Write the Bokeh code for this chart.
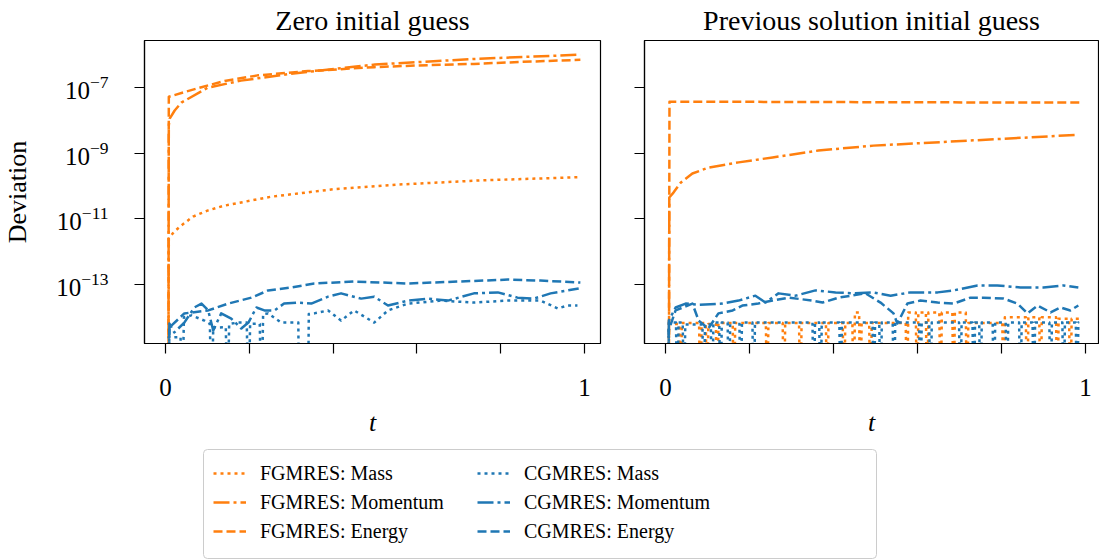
import numpy as np
from bokeh.plotting import figure
from bokeh.models import (Range1d, FixedTicker, LogTickFormatter, Legend, LegendItem,
                          BoxAnnotation, Title, CustomJSTickFormatter)
from bokeh.layouts import column, row
from bokeh.embed import file_html
from bokeh.resources import INLINE

# ---------------- data (log10 of deviation) ----------------
# Zero initial guess
zt_f_mass = [0.007, 0.008, 0.020, 0.038, 0.066, 0.100, 0.140, 0.250, 0.400, 0.550, 0.750, 0.990]
zl_f_mass = [-17, -11.60, -11.40, -11.20, -10.93, -10.75, -10.60, -10.33, -10.10, -9.96, -9.83, -9.73]

zt_f_mom = [0.007, 0.008, 0.010, 0.022, 0.038, 0.100, 0.180, 0.300, 0.500, 0.736, 0.990]
zl_f_mom = [-17, -8.15, -7.95, -7.70, -7.46, -7.01, -6.79, -6.58, -6.30, -6.13, -6.00]

zt_f_en = [0.007, 0.008, 0.019, 0.045, 0.086, 0.141, 0.220, 0.340, 0.498, 0.600, 0.736, 0.850, 0.990]
zl_f_en = [-17, -7.28, -7.24, -7.14, -6.99, -6.80, -6.63, -6.50, -6.38, -6.33, -6.28, -6.22, -6.156]

zt_c_mass = [0.007, 0.008, 0.019, 0.036, 0.040, 0.044, 0.062, 0.093, 0.106, 0.110,
             0.114, 0.126, 0.144, 0.148, 0.152, 0.174, 0.194, 0.198, 0.202, 0.221,
             0.225, 0.229, 0.233, 0.245, 0.276, 0.317, 0.319, 0.340, 0.342, 0.355,
             0.388, 0.419, 0.450, 0.498, 0.531, 0.579, 0.657, 0.736, 0.817, 0.895,
             0.936, 0.960, 0.983]
zl_c_mass = [-17, -14.61, -14.61, -14.60, -17, -14.00, -13.94, -14.10, -14.20, -17,
             -14.30, -14.31, -14.30, -17, -14.20, -14.16, -14.16, -17, -14.20, -14.19,
             -14.20, -17, -13.90, -13.88, -14.16, -14.16, -17, -17, -13.90, -13.88,
             -13.79, -14.10, -13.79, -14.16, -13.79, -13.58, -13.49, -13.55, -13.49, -13.49,
             -13.73, -13.64, -13.64]

zt_c_mom = [0.007, 0.0095, 0.021, 0.045, 0.069, 0.086, 0.102, 0.114, 0.133, 0.157,
            0.181, 0.198, 0.217, 0.236, 0.260, 0.283, 0.317, 0.348, 0.388, 0.419,
            0.467, 0.498, 0.531, 0.579, 0.626, 0.674, 0.736, 0.793, 0.840, 0.879,
            0.919, 0.960, 0.986]
zl_c_mom = [-17, -14.19, -14.46, -14.16, -13.70, -13.58, -13.79, -14.40, -13.88, -14.04,
            -14.34, -14.16, -13.70, -13.79, -13.79, -13.58, -13.55, -13.58, -13.37, -13.27,
            -13.43, -13.37, -13.64, -13.49, -13.43, -13.49, -13.27, -13.24, -13.40, -13.43,
            -13.27, -13.18, -13.12]

zt_c_en = [0.007, 0.0095, 0.045, 0.102, 0.150, 0.205, 0.245, 0.300, 0.355, 0.450,
           0.579, 0.698, 0.817, 0.895, 0.990]
zl_c_en = [-17, -14.31, -13.88, -13.79, -13.58, -13.40, -13.18, -13.09, -12.97, -12.91,
           -12.97, -12.91, -12.85, -12.88, -12.94]

# Previous solution initial guess
pt_f_mass = [0.007, 0.008,
             0.033, 0.036, 0.039,
             0.080, 0.083, 0.086,
             0.096, 0.099, 0.102,
             0.120, 0.123, 0.126,
             0.160, 0.163, 0.166,
             0.239, 0.242, 0.245,
             0.279, 0.282, 0.285,
             0.318, 0.321, 0.324,
             0.382, 0.385, 0.388,
             0.422, 0.425, 0.428,
             0.445, 0.448, 0.451,
             0.461, 0.464, 0.467,
             0.485, 0.488, 0.491,
             0.572, 0.575, 0.578,
             0.596, 0.599, 0.602,
             0.620, 0.623, 0.626,
             0.652, 0.655, 0.658,
             0.683, 0.686, 0.689,
             0.715, 0.718, 0.721,
             0.802, 0.805, 0.808,
             0.858, 0.861, 0.864,
             0.890, 0.893, 0.896,
             0.930, 0.933, 0.936,
             0.961, 0.964, 0.967,
             0.985]
pl_f_mass = [-17, -14.20,
             -14.20, -17, -14.17,
             -14.17, -17, -14.17,
             -14.17, -17, -14.20,
             -14.20, -17, -14.17,
             -14.17, -17, -14.17,
             -14.17, -17, -14.17,
             -14.17, -17, -14.17,
             -14.17, -17, -14.17,
             -14.17, -17, -14.17,
             -14.17, -17, -14.17,
             -14.17, -17, -13.85,
             -13.85, -17, -14.17,
             -14.17, -17, -14.17,
             -14.17, -17, -13.85,
             -13.85, -17, -13.85,
             -13.85, -17, -13.85,
             -13.85, -17, -13.85,
             -13.85, -17, -13.85,
             -13.85, -17, -14.17,
             -14.17, -17, -14.00,
             -14.00, -17, -14.00,
             -14.00, -17, -14.00,
             -14.00, -17, -14.04,
             -14.04, -17, -14.04,
             -14.04]

pt_f_mom = [0.008, 0.009, 0.019, 0.036, 0.064, 0.102, 0.174, 0.255, 0.364, 0.495, 0.733, 0.983]
pl_f_mom = [-17, -10.35, -10.20, -9.90, -9.62, -9.44, -9.28, -9.13, -8.92, -8.77, -8.61, -8.44]

pt_f_en = [0.008, 0.0095, 0.300, 0.600, 0.990]
pl_f_en = [-17, -7.43, -7.44, -7.45, -7.46]

pt_c_mass = [0.007, 0.008,
             0.025, 0.028, 0.031,
             0.041, 0.044, 0.047,
             0.088, 0.091, 0.094,
             0.108, 0.111, 0.114,
             0.128, 0.131, 0.134,
             0.148, 0.151, 0.154,
             0.176, 0.179, 0.182,
             0.207, 0.210, 0.213,
             0.350, 0.353, 0.356,
             0.366, 0.369, 0.372,
             0.414, 0.417, 0.420,
             0.493, 0.496, 0.499,
             0.509, 0.512, 0.515,
             0.541, 0.544, 0.547,
             0.604, 0.607, 0.610,
             0.628, 0.631, 0.634,
             0.699, 0.702, 0.705,
             0.731, 0.734, 0.737,
             0.747, 0.750, 0.753,
             0.779, 0.782, 0.785,
             0.810, 0.813, 0.816,
             0.842, 0.845, 0.848,
             0.874, 0.877, 0.880,
             0.914, 0.917, 0.920,
             0.945, 0.948, 0.951,
             0.977, 0.980, 0.983,
             0.985]
pl_c_mass = [-17, -14.16,
             -14.16, -17, -14.16,
             -14.16, -17, -14.22,
             -14.22, -17, -14.22,
             -14.22, -17, -14.16,
             -14.16, -17, -14.16,
             -14.16, -17, -14.16,
             -14.16, -17, -14.16,
             -14.16, -17, -14.16,
             -14.16, -17, -14.16,
             -14.16, -17, -14.16,
             -14.16, -17, -14.16,
             -14.16, -17, -14.16,
             -14.16, -17, -14.16,
             -14.16, -17, -14.16,
             -14.16, -17, -14.16,
             -14.16, -17, -14.16,
             -14.16, -17, -14.16,
             -14.16, -17, -14.16,
             -14.16, -17, -14.16,
             -14.16, -17, -14.16,
             -14.16, -17, -14.16,
             -14.16, -17, -14.16,
             -14.16, -17, -14.16,
             -14.16, -17, -14.16,
             -14.16, -17, -14.16,
             -14.16, -17, -14.16,
             -14.16]

pt_c_mom = [0.007, 0.008, 0.024, 0.048, 0.080, 0.136, 0.174, 0.214, 0.238, 0.269,
            0.310, 0.357, 0.405, 0.452, 0.493, 0.536, 0.583, 0.648, 0.686, 0.743,
            0.790, 0.845, 0.900, 0.948, 0.983]
pl_c_mom = [-17, -14.10, -13.70, -13.58, -13.62, -13.58, -13.49, -13.34, -13.55, -13.27,
            -13.34, -13.18, -13.24, -13.27, -13.24, -13.34, -13.24, -13.24, -13.18, -13.03,
            -13.03, -13.09, -13.09, -13.03, -13.09]

pt_c_en = [0.007, 0.0075, 0.024, 0.064, 0.079, 0.102, 0.126, 0.160, 0.183, 0.221,
           0.255, 0.293, 0.350, 0.374, 0.412, 0.476, 0.512, 0.543, 0.552, 0.576,
           0.607, 0.648, 0.686, 0.726, 0.757, 0.805, 0.838, 0.862, 0.886, 0.917,
           0.940, 0.964, 0.983]
pl_c_en = [-17, -14.40, -13.79, -13.58, -14.10, -14.34, -13.88, -13.79, -13.64, -13.58,
           -13.49, -13.40, -13.49, -13.55, -13.40, -13.27, -13.55, -13.88, -14.19, -13.58,
           -13.49, -13.55, -13.58, -13.40, -13.40, -13.43, -13.58, -13.88, -13.64, -13.85,
           -13.70, -13.79, -13.64]

titles = ["Zero initial guess", "Previous solution initial guess"]
x_ticks = [0.0, 0.2, 0.4, 0.6, 0.8, 1.0]
y_ticks = [1e-13, 1e-11, 1e-9, 1e-7]
legend_labels = ["FGMRES: Mass", "FGMRES: Momentum", "FGMRES: Energy",
                 "CGMRES: Mass", "CGMRES: Momentum", "CGMRES: Energy"]

# ---------------- style ----------------
ORANGE = "#ff7f0e"
BLUE = "#1f77b4"
SERIF = "Liberation Serif"
LW = 2.5
DASHES = ["3 4", "16 4 3 4", "9 4"]
H = 446
FRAME_H = 303
TOP = 40

y_range = Range1d(10 ** -14.797, 10 ** -5.568)


def style_panel(p, first):
    p.outline_line_color = "black"
    p.outline_line_width = 1.2
    p.outline_line_alpha = 1
    p.grid.visible = False
    p.background_fill_color = "white"
    p.border_fill_color = "white"
    for ax in (p.xaxis[0], p.yaxis[0]):
        ax.axis_line_color = "black"
        ax.axis_line_width = 1.2
        ax.major_tick_line_color = "black"
        ax.major_tick_line_width = 1.2
        ax.major_tick_in = 0
        ax.major_tick_out = 10
        ax.minor_tick_line_color = None
        ax.major_label_text_font = SERIF
        ax.major_label_text_font_size = "25px"
        ax.major_label_text_color = "black"
        ax.axis_label_text_font = SERIF
        ax.axis_label_text_font_size = "26px"
        ax.axis_label_text_color = "black"
    p.xaxis.ticker = FixedTicker(ticks=x_ticks, minor_ticks=[])
    p.xaxis.major_label_overrides = {0.2: "", 0.4: "", 0.6: "", 0.8: ""}
    p.xaxis.major_label_standoff = 25
    p.xaxis.axis_label = "t"
    p.xaxis.axis_label_text_font_style = "italic"
    p.xaxis.axis_label_standoff = 9
    p.yaxis.ticker = FixedTicker(ticks=y_ticks, minor_ticks=[])
    if first:
        p.yaxis.formatter = LogTickFormatter()
        p.yaxis.axis_label = "Deviation"
        p.yaxis.axis_label_text_font_style = "normal"
        p.yaxis.major_label_standoff = 26
        p.yaxis.axis_label_standoff = 21
    else:
        p.yaxis.formatter = CustomJSTickFormatter(code="return ''")
        p.yaxis.major_label_standoff = 0


def make_panel(title, width, min_left, min_right, x_end, first, series):
    p = figure(width=width, height=H, y_axis_type="log",
               x_range=Range1d(-0.05, x_end), y_range=y_range,
               output_backend="svg", toolbar_location=None,
               min_border_left=min_left, min_border_right=min_right,
               min_border_top=TOP, min_border_bottom=H - TOP - FRAME_H)
    p.title = Title(text=title, align="center", vertical_align="top",
                    text_font=SERIF, text_font_size="28px", text_font_style="normal",
                    text_color="black", standoff=6)
    style_panel(p, first)
    for t, l, color, dash in series:
        p.line(t, 10.0 ** np.array(l, dtype=float), line_color=color, line_width=LW,
               line_dash=dash, line_join="round")
    return p


p1 = make_panel(titles[0], 622, 143, 22, 1.038, True, [
    (zt_f_mass, zl_f_mass, ORANGE, DASHES[0]),
    (zt_f_mom, zl_f_mom, ORANGE, DASHES[1]),
    (zt_f_en, zl_f_en, ORANGE, DASHES[2]),
    (zt_c_mass, zl_c_mass, BLUE, DASHES[0]),
    (zt_c_mom, zl_c_mom, BLUE, DASHES[1]),
    (zt_c_en, zl_c_en, BLUE, DASHES[2]),
])
p2 = make_panel(titles[1], 477, 22, 1, 1.031, False, [
    (pt_f_mass, pl_f_mass, ORANGE, DASHES[0]),
    (pt_f_mom, pl_f_mom, ORANGE, DASHES[1]),
    (pt_f_en, pl_f_en, ORANGE, DASHES[2]),
    (pt_c_mass, pl_c_mass, BLUE, DASHES[0]),
    (pt_c_mom, pl_c_mom, BLUE, DASHES[1]),
    (pt_c_en, pl_c_en, BLUE, DASHES[2]),
])

# ---------------- legend panel ----------------
LH = 560 - H
pl = figure(width=1099, height=LH, x_range=Range1d(0, 1099), y_range=Range1d(0, LH),
            output_backend="svg", toolbar_location=None, min_border=0,
            x_axis_location=None, y_axis_location=None)
pl.grid.visible = False
pl.outline_line_color = None
pl.background_fill_color = "white"
pl.border_fill_color = "white"

box = BoxAnnotation(left=203, right=876, bottom=2, top=LH - 3,
                    fill_color="white", fill_alpha=1.0, line_color="#cccccc",
                    line_alpha=1.0, line_width=1, border_radius=4)
pl.add_layout(box)

items_cols = [[], []]
colors = [ORANGE, ORANGE, ORANGE, BLUE, BLUE, BLUE]
for i, lab in enumerate(legend_labels):
    r = pl.line(x=[-20, -10], y=[-20, -20], line_color=colors[i], line_width=LW,
                line_dash=DASHES[i % 3])
    items_cols[i // 3].append(LegendItem(label=lab, renderers=[r]))

for col, xloc in zip(items_cols, [213, 477]):
    leg = Legend(items=col, location=(xloc, 17), orientation="vertical",
                 padding=0, margin=0, spacing=5, glyph_width=33, glyph_height=24,
                 label_height=24, label_standoff=14, label_text_font=SERIF,
                 label_text_font_size="20px", label_text_color="black",
                 border_line_color=None, background_fill_alpha=0)
    pl.add_layout(leg)

layout = column(row(p1, p2), pl)

with open("out.html", "w") as f:
    f.write(file_html(layout, INLINE))
